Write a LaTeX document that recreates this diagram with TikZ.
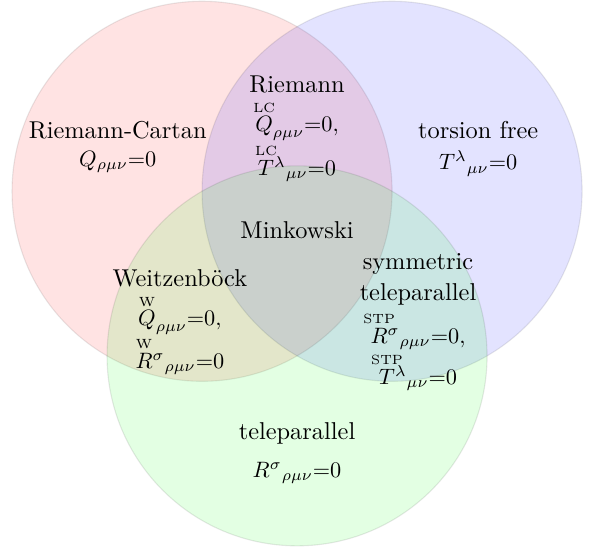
\documentclass[tikz,border=0pt,11pt]{standalone}
\usepackage{amsmath,amssymb}
\usetikzlibrary{positioning}
\tikzset{
  set/.style={circle,minimum size=6cm,inner sep=0pt,draw=black,
    draw opacity=0.09,fill opacity=0.11,line width=0.5pt},
  ttl/.style={align=center,inner sep=1pt,font=\normalsize},
  cond/.style={align=center,inner sep=1pt,font=\small},
}
\newcommand{\lab}[2]{\overset{\makebox[0pt]{\tiny #1}}{#2}}

\begin{document}
\begin{tikzpicture}
  \useasboundingbox (-3.19,-5.64) rectangle (6.22,3.02);
  \node[set,fill=red]   (rc) at (0,0) {};
  \node[set,fill=blue]  (tf) at (3,0) {};
  \node[set,fill=green] (tp) at (1.5,-2.598) {};
  % single sets
  \node[ttl] (rct) at (-1.33,0.96) {Riemann-Cartan};
  \node[cond,below=1mm of rct] (rcc) {$Q_{\rho\mu\nu}{=}0$};
  \node[ttl] (tft) at (4.36,0.96) {torsion free};
  \node[cond,below=1mm of tft] (tfc) {$T^{\lambda}{}_{\mu\nu}{=}0$};
  \node[ttl] (tpt) at (1.5,-3.82) {teleparallel};
  \node[cond,below=2mm of tpt] (tpc) {$R^{\sigma}{}_{\rho\mu\nu}{=}0$};
  % pairwise
  \node[ttl] (rm) at (1.5,1.68) {Riemann};
  \node[cond,below=0.3mm of rm] (rmc)
    {$\lab{LC}{Q}_{\rho\mu\nu}{=}0,$\\[0.5pt] $\lab{LC}{T}{}^{\lambda}{}_{\mu\nu}{=}0$};
  \node[ttl] (wz) at (-0.35,-1.38) {Weitzenb\"ock};
  \node[cond,below=0.3mm of wz] (wzc)
    {$\lab{W}{Q}_{\rho\mu\nu}{=}0,$\\[0.5pt] $\lab{W}{R}{}^{\sigma}{}_{\rho\mu\nu}{=}0$};
  \node[ttl] (st) at (3.41,-1.39) {symmetric\\teleparallel};
  \node[cond,below=0.3mm of st] (stc)
    {$\lab{STP}{R}{}^{\sigma}{}_{\rho\mu\nu}{=}0,$\\[0.5pt] $\lab{STP}{T}{}^{\lambda}{}_{\mu\nu}{=}0$};
  % all three
  \node[ttl] (mk) at (1.5,-0.62) {Minkowski};
\end{tikzpicture}
\end{document}
